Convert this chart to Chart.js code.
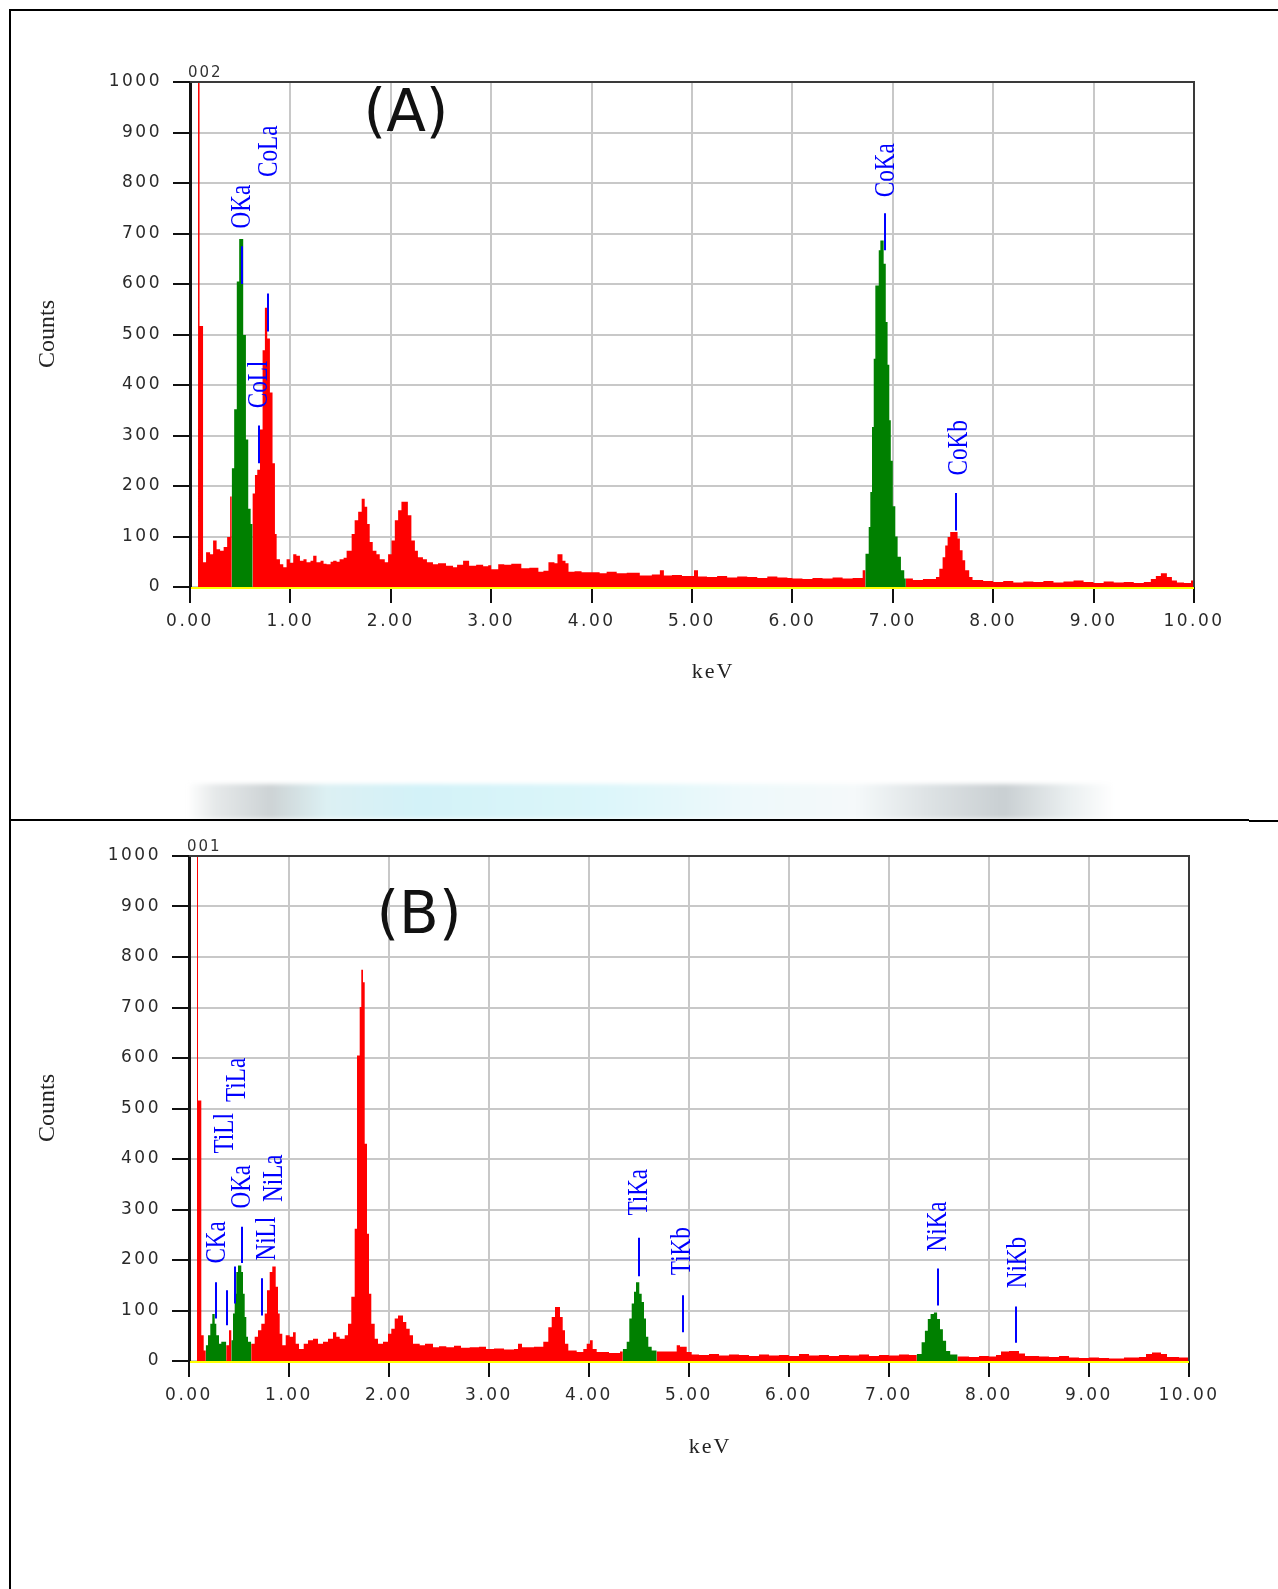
<!DOCTYPE html>
<html>
<head>
<meta charset="utf-8">
<script src="https://cdn.jsdelivr.net/npm/chart.js@4.4.1/dist/chart.umd.min.js"></script>
<style>
    body { margin: 0; background: #fff; }
    #page { position: relative; width: 1278px; height: 1589px; overflow: hidden; background: #fff; }
    canvas { position: absolute; left: 0; }
    .rule { position: absolute; background: #000; }
    #strip {
        position: absolute; left: 187px; top: 784px; width: 928px; height: 35px;
        background: linear-gradient(to right, #fff 0%, #e6e9ea 3%, #cdd3d5 9%, #dcf0f3 15%, #d3f2f8 25%,
            #dcf6fa 45%, #eef9fb 60%, #f5f9fa 72%, #dde2e4 80%, #c9cfd2 88%, #eaeff0 95%, #fff 100%);
        filter: blur(2px);
    }
</style>
</head>
<body>
<div id="page">
    <div id="strip"></div>
    <canvas id="chart-a" width="1278" height="780" style="top:0;width:1278px;height:780px"></canvas>
    <canvas id="chart-b" width="1278" height="789" style="top:800px;width:1278px;height:789px"></canvas>
    <div class="rule" style="left:9px;top:9px;width:1269px;height:2px"></div>
    <div class="rule" style="left:9px;top:9px;width:2px;height:1580px"></div>
    <div class="rule" style="left:9px;top:819px;width:1240px;height:2px"></div>
    <div class="rule" style="left:1249px;top:820px;width:29px;height:2px"></div>
</div>
<script>
colors = {
    red: '#ff0000',
    green: '#008000',
    blue: '#0000ff',
    grid: '#c8c8c8',
    yellow: '#ffff00'
}

// spectrum (A): [keV, counts], each count holds until the next keV
var spectrumA = [
    [0.08, 1200], [0.095, 517], [0.13, 49], [0.16, 69], [0.20, 65], [0.23, 92], [0.265, 75], [0.30, 72], [0.335, 79], [0.37, 99],
    [0.40, 179], [0.415, 0], [0.624, 185], [0.647, 222], [0.67, 232], [0.697, 312], [0.723, 469], [0.746, 553], [0.769, 492], [0.796, 385],
    [0.822, 245], [0.846, 105], [0.863, 55], [0.896, 45], [0.929, 39], [0.962, 55], [0.995, 48], [1.028, 65], [1.06, 62], [1.095, 52],
    [1.13, 55], [1.161, 49], [1.20, 52], [1.227, 62], [1.26, 49], [1.30, 52], [1.33, 46], [1.36, 45], [1.40, 50], [1.426, 52],
    [1.46, 50], [1.49, 55], [1.53, 58], [1.56, 72], [1.61, 105], [1.64, 132], [1.675, 149], [1.71, 175], [1.74, 159], [1.765, 125],
    [1.79, 89], [1.82, 72], [1.857, 65], [1.89, 55], [1.94, 49], [1.973, 65], [2.007, 92], [2.04, 132], [2.073, 152], [2.106, 169],
    [2.17, 142], [2.205, 92], [2.24, 72], [2.27, 59], [2.32, 55], [2.36, 49], [2.42, 45], [2.47, 47], [2.55, 42], [2.62, 39],
    [2.66, 44], [2.72, 52], [2.78, 42], [2.85, 44], [2.92, 41], [2.97, 43], [3.0, 35], [3.07, 45], [3.13, 44], [3.2, 46],
    [3.3, 37], [3.38, 38], [3.47, 30], [3.52, 32], [3.57, 49], [3.63, 47], [3.66, 65], [3.71, 52], [3.74, 47], [3.77, 30],
    [3.83, 31], [3.9, 29], [4.0, 29], [4.08, 27], [4.15, 30], [4.25, 27], [4.35, 28], [4.48, 23], [4.6, 25], [4.68, 33],
    [4.72, 23], [4.8, 24], [4.9, 22], [5.02, 33], [5.06, 21], [5.15, 20], [5.25, 22], [5.35, 19], [5.45, 21], [5.55, 20],
    [5.65, 18], [5.75, 21], [5.85, 19], [5.95, 18], [6.0, 17], [6.1, 16], [6.2, 18], [6.3, 17], [6.4, 19], [6.5, 17],
    [6.6, 18], [6.7, 33], [6.726, 0], [7.13, 17], [7.2, 14], [7.3, 16], [7.43, 20], [7.463, 36], [7.496, 59], [7.522, 82],
    [7.546, 99], [7.572, 109], [7.645, 96], [7.668, 73], [7.695, 53], [7.721, 33], [7.761, 20], [7.794, 14], [7.9, 12], [8.0, 10],
    [8.1, 12], [8.2, 9], [8.3, 11], [8.4, 10], [8.5, 12], [8.6, 9], [8.7, 11], [8.8, 13], [8.9, 10], [9.0, 8],
    [9.1, 11], [9.2, 9], [9.3, 10], [9.4, 8], [9.5, 10], [9.57, 16], [9.62, 22], [9.67, 27], [9.73, 20], [9.78, 13],
    [9.83, 9], [9.9, 8], [9.97, 13], [10.0, 13]
]
// identified peak windows (green)
var oxygenA = [[0.415, 235], [0.44, 352], [0.466, 605], [0.49, 689], [0.53, 499], [0.557, 292], [0.58, 155], [0.604, 125], [0.624, 0]]
var cobaltA = [
    [6.726, 66], [6.76, 119], [6.776, 188], [6.793, 317], [6.81, 452], [6.826, 597], [6.86, 667], [6.876, 686], [6.909, 640], [6.93, 525],
    [6.948, 440], [6.965, 330], [6.98, 250], [7.0, 160], [7.025, 100], [7.048, 60], [7.081, 33], [7.114, 17], [7.13, 0]
]

var spectrumB = [
    [0.08, 1200], [0.09, 516], [0.123, 51], [0.147, 21], [0.167, 0], [0.373, 31], [0.40, 61], [0.423, 0], [0.623, 34], [0.657, 48],
    [0.69, 61], [0.723, 74], [0.757, 94], [0.78, 140], [0.807, 176], [0.833, 187], [0.867, 147], [0.89, 94], [0.907, 54], [0.933, 31],
    [0.967, 51], [1.007, 48], [1.04, 57], [1.067, 34], [1.1, 24], [1.147, 34], [1.19, 41], [1.24, 44], [1.29, 34], [1.34, 38],
    [1.39, 44], [1.44, 57], [1.473, 48], [1.507, 44], [1.557, 51], [1.59, 74], [1.623, 127], [1.657, 262], [1.68, 605], [1.707, 701],
    [1.723, 775], [1.74, 750], [1.757, 430], [1.78, 252], [1.8, 133], [1.823, 74], [1.857, 44], [1.89, 34], [1.94, 38], [1.99, 54],
    [2.023, 64], [2.057, 84], [2.09, 90], [2.14, 77], [2.173, 64], [2.207, 51], [2.24, 34], [2.307, 31], [2.36, 34], [2.44, 27],
    [2.5, 29], [2.573, 27], [2.65, 30], [2.72, 26], [2.807, 27], [2.9, 28], [2.97, 24], [3.05, 25], [3.15, 23], [3.25, 24],
    [3.29, 34], [3.33, 27], [3.45, 28], [3.543, 38], [3.593, 67], [3.627, 87], [3.66, 107], [3.71, 87], [3.737, 61], [3.76, 34],
    [3.793, 21], [3.877, 18], [3.943, 24], [3.977, 34], [4.01, 41], [4.037, 24], [4.077, 18], [4.2, 16], [4.31, 19], [4.337, 0],
    [4.677, 19], [4.877, 31], [4.91, 28], [4.977, 18], [5.027, 13], [5.1, 12], [5.2, 14], [5.3, 11], [5.4, 13], [5.5, 12],
    [5.6, 10], [5.7, 13], [5.8, 11], [5.9, 12], [6.0, 10], [6.1, 14], [6.2, 11], [6.3, 12], [6.4, 10], [6.5, 12],
    [6.6, 11], [6.7, 13], [6.8, 10], [6.9, 12], [7.0, 11], [7.1, 13], [7.2, 12], [7.277, 0], [7.686, 9], [7.8, 8],
    [7.9, 10], [8.0, 9], [8.07, 12], [8.12, 19], [8.2, 20], [8.3, 15], [8.36, 10], [8.5, 9], [8.6, 8], [8.7, 10],
    [8.8, 7], [8.9, 6], [9.0, 7], [9.1, 6], [9.2, 5], [9.35, 7], [9.5, 8], [9.57, 14], [9.63, 17], [9.72, 14],
    [9.78, 8], [9.9, 7], [10.0, 7]
]
var carbonB = [[0.167, 31], [0.19, 51], [0.213, 74], [0.233, 93], [0.257, 74], [0.273, 51], [0.30, 34], [0.323, 38], [0.373, 0]]
var oxygenB = [[0.423, 41], [0.44, 94], [0.457, 133], [0.473, 176], [0.49, 189], [0.523, 176], [0.54, 133], [0.557, 87], [0.573, 48], [0.59, 38], [0.623, 0]]
var titaniumB = [[4.337, 24], [4.377, 38], [4.403, 84], [4.427, 114], [4.45, 137], [4.47, 156], [4.503, 133], [4.527, 117], [4.55, 84], [4.57, 48], [4.593, 28], [4.627, 21], [4.677, 0]]
var nickelB = [[7.277, 14], [7.326, 37], [7.359, 60], [7.388, 83], [7.416, 93], [7.449, 96], [7.481, 83], [7.51, 63], [7.539, 40], [7.571, 20], [7.612, 13], [7.686, 0]]

// line markers: name, keV of the bar, bar from/to counts, label keV and label start counts
var linesA = ['OKa', 'CoLa', 'CoLl', 'CoKa', 'CoKb']
var lineKevA = [0.515, 0.78, 0.687, 6.925, 7.63]
var lineBarA = [[600, 675], [506, 581], [245, 320], [667, 740], [112, 186]]
var labelKevA = [0.498, 0.766, 0.67, 6.915, 7.642]
var labelAtA = [710, 812, 354, 772, 221]

var linesB = ['CKa', 'TiLl', 'TiLa', 'OKa', 'NiLl', 'NiLa', 'TiKa', 'TiKb', 'NiKa', 'NiKb']
var lineKevB = [0.273, 0.383, 0.457, 0.526, 0.73, null, 4.503, 4.943, 7.49, 8.27]
var lineBarB = [[84, 156], [71, 140], [114, 187], [194, 266], [90, 164], null, [168, 244], [57, 130], [110, 183], [36, 108]]
var labelKevB = [0.26, 0.337, 0.46, 0.51, 0.76, 0.827, 4.477, 4.91, 7.47, 8.27]
var labelAtB = [193, 411, 513, 302, 199, 315, 288, 170, 217, 144]

function points(list) {
    return list.map(p => ({ x: p[0], y: p[1] }))
}

function area(list, color) {
    return {
        data: points(list),
        stepped: true,
        fill: 'origin',
        backgroundColor: color,
        borderColor: 'rgba(0,0,0,0)',
        borderWidth: 0,
        pointRadius: 0
    }
}

function edsPlugin(o) {
    return {
        id: 'eds',
        beforeDraw: function (chart) {
            chart.ctx.letterSpacing = '2.5px';
        },
        afterDatasetsDraw: function (chart) {
            var ctx = chart.ctx, a = chart.chartArea, x = chart.scales.x, y = chart.scales.y;
            ctx.save();
            ctx.letterSpacing = '0px';

            ctx.strokeStyle = colors.yellow;
            ctx.lineWidth = 2;
            ctx.beginPath();
            ctx.moveTo(a.left + 1, a.bottom + 1);
            ctx.lineTo(a.right, a.bottom + 1);
            ctx.stroke();

            ctx.strokeStyle = '#3a3a3a';
            ctx.beginPath();
            ctx.moveTo(a.left, a.top);
            ctx.lineTo(a.right, a.top);
            ctx.lineTo(a.right, a.bottom);
            ctx.stroke();

            ctx.strokeStyle = colors.blue;
            ctx.fillStyle = colors.blue;
            ctx.font = '30px "Liberation Serif"';
            ctx.textAlign = 'left';
            ctx.textBaseline = 'alphabetic';
            o.names.forEach(function (name, i) {
                if (o.bars[i]) {
                    var px = Math.round(x.getPixelForValue(o.kev[i]));
                    ctx.beginPath();
                    ctx.moveTo(px, y.getPixelForValue(o.bars[i][0]));
                    ctx.lineTo(px, y.getPixelForValue(o.bars[i][1]));
                    ctx.stroke();
                }
                ctx.save();
                ctx.translate(x.getPixelForValue(o.labelKev[i]) + 10, y.getPixelForValue(o.labelAt[i]));
                ctx.rotate(-Math.PI / 2);
                ctx.scale(0.77, 1);
                ctx.fillText(name, 0, 0);
                ctx.restore();
            });

            ctx.fillStyle = '#111';
            ctx.textAlign = 'center';
            ctx.textBaseline = 'middle';
            ctx.font = '58px "DejaVu Sans"';
            ctx.fillText(o.title, o.titleX, o.titleY);

            ctx.fillStyle = '#222';
            ctx.font = '24px "Liberation Serif"';
            ctx.save();
            ctx.translate(48, o.countsY);
            ctx.rotate(-Math.PI / 2);
            ctx.fillText('Counts', 0, 0);
            ctx.restore();

            ctx.letterSpacing = '2px';
            ctx.font = '22px "Liberation Serif"';
            ctx.fillText('keV', o.kevX + 1, o.kevY);

            ctx.fillStyle = '#333';
            ctx.textAlign = 'left';
            ctx.textBaseline = 'alphabetic';
            ctx.font = '15px "DejaVu Sans"';
            ctx.fillText(o.badge, a.left - 2, a.top - 5);
            ctx.restore();
        }
    }
}

function scales(yWidth, xHeight) {
    var tickFont = { family: 'DejaVu Sans', size: 17 };
    return {
        x: {
            type: 'linear', min: 0, max: 10,
            ticks: { stepSize: 1, autoSkip: false, maxRotation: 0, padding: 8, color: '#2a2a2a', font: tickFont,
                callback: v => v.toFixed(2) },
            grid: { color: colors.grid, lineWidth: 2, tickLength: 16, tickColor: '#111', tickWidth: 2 },
            border: { display: false },
            afterFit: s => { s.height = xHeight }
        },
        y: {
            min: 0, max: 1000,
            ticks: { stepSize: 100, padding: 11, color: '#2a2a2a', font: tickFont,
                callback: v => String(v) },
            grid: { color: colors.grid, lineWidth: 2, tickLength: 17, tickColor: '#111', tickWidth: 2 },
            border: { color: '#111', width: 3 },
            afterFit: s => { s.width = yWidth }
        }
    }
}

new Chart(document.getElementById('chart-a').getContext('2d'), {
    type: 'line',
    data: {
        datasets: [area(oxygenA, colors.green), area(cobaltA, colors.green), area(spectrumA, colors.red)]
    },
    plugins: [edsPlugin({
        names: linesA, kev: lineKevA, bars: lineBarA, labelKev: labelKevA, labelAt: labelAtA,
        title: '(A)', titleX: 406, titleY: 116, badge: '002', countsY: 334, kevX: 712, kevY: 672
    })],
    options: {
        responsive: false,
        animation: false,
        layout: { padding: { top: 82, right: 84, left: 0, bottom: 0 } },
        plugins: { legend: { display: false }, tooltip: { enabled: false } },
        scales: scales(190, 193)
    }
});

new Chart(document.getElementById('chart-b').getContext('2d'), {
    type: 'line',
    data: {
        datasets: [area(carbonB, colors.green), area(oxygenB, colors.green), area(titaniumB, colors.green),
            area(nickelB, colors.green), area(spectrumB, colors.red)]
    },
    plugins: [edsPlugin({
        names: linesB, kev: lineKevB, bars: lineBarB, labelKev: labelKevB, labelAt: labelAtB,
        title: '(B)', titleX: 419, titleY: 118, badge: '001', countsY: 308, kevX: 709, kevY: 647
    })],
    options: {
        responsive: false,
        animation: false,
        layout: { padding: { top: 56, right: 89, left: 0, bottom: 0 } },
        plugins: { legend: { display: false }, tooltip: { enabled: false } },
        scales: scales(189, 228)
    }
});
</script>
</body>
</html>
